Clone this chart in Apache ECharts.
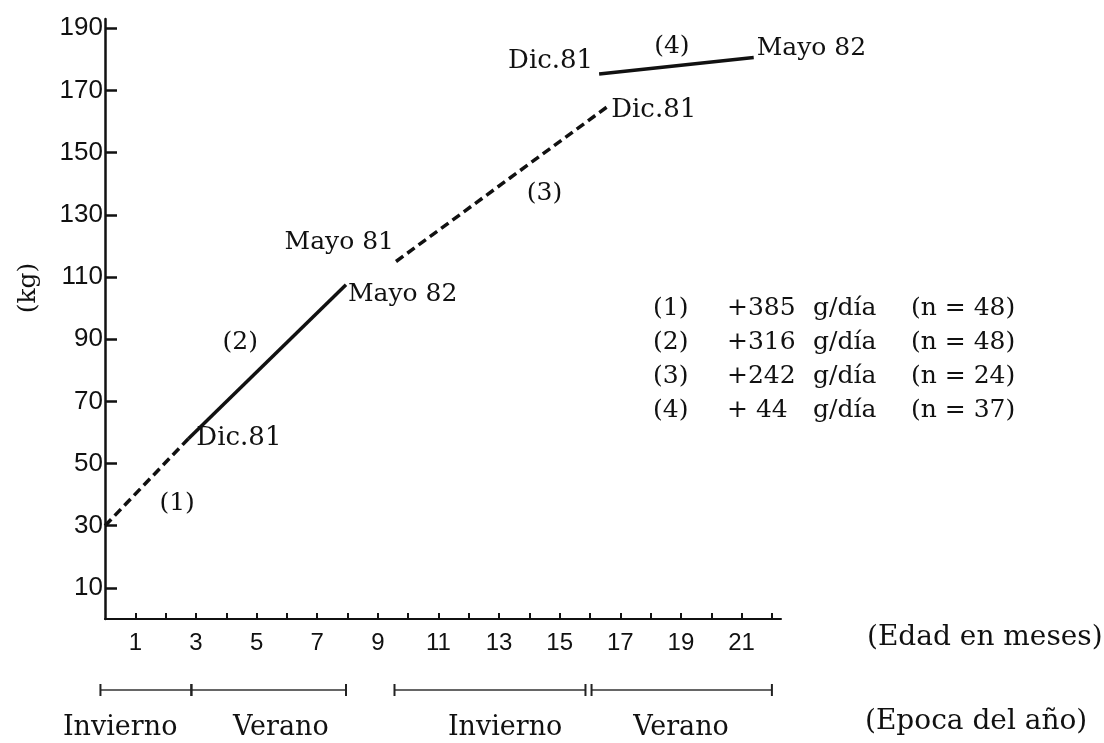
<!DOCTYPE html>
<html>
<head>
<meta charset="utf-8">
<script src="https://cdn.jsdelivr.net/npm/echarts@6/dist/echarts.min.js"></script>
<style>
html,body{margin:0;padding:0;background:#fff;}
#c{width:1104px;height:743px;}
</style>
</head>
<body>
<div id="c"></div>
<script>
// ---- data ----
var yTickValues = [10, 30, 50, 70, 90, 110, 130, 150, 170, 190];
var xTickValues = [1,2,3,4,5,6,7,8,9,10,11,12,13,14,15,16,17,18,19,20,21,22];
var xLabelValues = [1,3,5,7,9,11,13,15,17,19,21];

// growth segments: [month, kg]
var seg1 = [[0, 30], [2.75, 58]];          // (1) dashed
var seg2 = [[2.75, 58], [7.95, 107.5]];    // (2) solid
var seg3 = [[9.6, 115], [16.6, 165]];      // (3) dashed
var seg4 = [[16.3, 175.3], [21.4, 180.6]]; // (4) solid

var segNames = ['(1)', '(2)', '(3)', '(4)'];
var segNamePos = [[2.38, 37.3], [4.46, 89.1], [14.5, 137], [18.7, 184.2]];

var dateLabels = ['Dic.81', 'Mayo 82', 'Mayo 81', 'Dic.81', 'Dic.81', 'Mayo 82'];
var datePoints = [seg2[0], seg2[1], seg3[0], seg3[1], seg4[0], seg4[1]];

var seasons = ['Invierno', 'Verano', 'Invierno', 'Verano'];
var seasonRanges = [[-0.15, 2.85], [2.85, 7.95], [9.55, 15.85], [16.05, 22]];
var seasonLabelX = [0.5, 5.8, 13.2, 19.0];

var legNums = ['(1)', '(2)', '(3)', '(4)'];
var legRates = ['+385', '+316', '+242', '+ 44'];
var legUnit = 'g/día';
var legN = ['(n = 48)', '(n = 48)', '(n = 24)', '(n = 37)'];

var xName = '(Edad en meses)';
var seasonName = '(Epoca del año)';
var yName = '(kg)';

// ---- chart ----
var SERIF = '"DejaVu Serif", "Liberation Serif", serif';
var SANS = '"Liberation Sans", Arial, sans-serif';
var TXT = '#111';
var chart = echarts.init(document.getElementById('c'), null, {renderer: 'canvas'});

var labelCfg = [
  {position: 'right', distance: 8, offset: [0, 0], fontSize: 26},
  {position: 'right', distance: 2, offset: [0, 10], fontSize: 25},
  {position: 'left', distance: 2, offset: [0, -19], fontSize: 25},
  {position: 'right', distance: 3, offset: [0, 4], fontSize: 26},
  {position: 'left', distance: 6, offset: [0, -13], fontSize: 26},
  {position: 'right', distance: 3, offset: [0, -9], fontSize: 25}
];

function segSeries(data, dashed) {
  return {
    type: 'line', xAxisIndex: 0, yAxisIndex: 0, data: data,
    symbol: 'none', silent: true, animation: false,
    lineStyle: {color: '#111', width: 3.5, type: dashed ? [9, 5] : 'solid'}
  };
}

var series = [
  segSeries(seg1, true), segSeries(seg2, false),
  segSeries(seg3, true), segSeries(seg4, false),
  {
    type: 'scatter', xAxisIndex: 0, yAxisIndex: 0, symbolSize: 0, animation: false, silent: true,
    itemStyle: {opacity: 1},
    data: datePoints.map(function (p, i) {
      return {value: p, label: Object.assign({show: true, formatter: dateLabels[i],
        fontFamily: SERIF, color: TXT}, labelCfg[i])};
    })
  },
  {
    type: 'scatter', xAxisIndex: 0, yAxisIndex: 0, symbolSize: 0, animation: false, silent: true,
    itemStyle: {opacity: 1},
    data: segNamePos.map(function (p, i) {
      return {value: p, label: {show: true, position: 'inside', formatter: segNames[i],
        fontFamily: SERIF, fontSize: 25, color: TXT}};
    })
  }
];

seasonRanges.forEach(function (r) {
  series.push({
    type: 'line', xAxisIndex: 1, yAxisIndex: 1, animation: false, silent: true,
    data: [[r[0], 0], [r[1], 0]],
    symbol: 'rect', symbolSize: [2, 12], itemStyle: {color: '#222'},
    lineStyle: {color: '#333', width: 1.5}
  });
});
series.push({
  type: 'scatter', xAxisIndex: 1, yAxisIndex: 1, symbolSize: 0, animation: false, silent: true,
  itemStyle: {opacity: 1},
  data: seasonLabelX.map(function (x, i) {
    return {value: [x, 0], label: {show: true, position: 'bottom', distance: 24,
      formatter: seasons[i], fontFamily: SERIF, fontSize: 27, color: TXT}};
  })
});

var legendX = [653, 727, 813, 911];
var LH = 34, LT = 291;
var legFont = '25px ' + SERIF;
var graphics = [
  {type: 'text', left: legendX[0], top: LT, style: {text: legNums.join('\n'), font: legFont, lineHeight: LH, fill: TXT}},
  {type: 'text', left: legendX[1], top: LT, style: {text: legRates.join('\n'), font: legFont, lineHeight: LH, fill: TXT}},
  {type: 'text', left: legendX[2], top: LT, style: {text: legRates.map(function(){return legUnit;}).join('\n'), font: legFont, lineHeight: LH, fill: TXT}},
  {type: 'text', left: legendX[3], top: LT, style: {text: legN.join('\n'), font: legFont, lineHeight: LH, fill: TXT}},
  {type: 'text', left: 867, top: 624, style: {text: xName, font: '28px ' + SERIF, fill: TXT}},
  {type: 'text', left: 865, top: 708, style: {text: seasonName, font: '28px ' + SERIF, fill: TXT}},
  {type: 'text', x: 28, y: 288, rotation: Math.PI / 2, style: {text: yName, font: '25px ' + SERIF, fill: TXT, align: 'center', verticalAlign: 'middle'}}
];

chart.setOption({
  animation: false,
  backgroundColor: '#fff',
  grid: [
    {left: 105, right: 323, top: 19, bottom: 124, containLabel: false},
    {left: 105 - 0.5 * 676 / 22.3, right: 323, top: 682, height: 16}
  ],
  xAxis: [
    {
      type: 'value', gridIndex: 0, min: 0, max: 22.3,
      axisLine: {show: true, onZero: false, lineStyle: {color: '#111', width: 2}},
      axisTick: {show: true, inside: true, length: 6, customValues: xTickValues, lineStyle: {color: '#111', width: 2}},
      axisLabel: {show: true, customValues: xLabelValues, margin: 12, fontFamily: SANS, fontSize: 24, color: TXT},
      splitLine: {show: false}
    },
    {type: 'value', gridIndex: 1, min: -0.5, max: 22.3, show: false}
  ],
  yAxis: [
    {
      type: 'value', gridIndex: 0, min: 0, max: 193,
      axisLine: {show: true, onZero: false, lineStyle: {color: '#111', width: 2.5}},
      axisTick: {show: true, inside: true, length: 12, customValues: yTickValues, lineStyle: {color: '#111', width: 2.5}},
      axisLabel: {show: true, customValues: yTickValues, margin: 2, fontFamily: SANS, fontSize: 26, color: TXT},
      splitLine: {show: false}
    },
    {type: 'value', gridIndex: 1, min: -1, max: 1, show: false}
  ],
  series: series,
  graphic: graphics
});
</script>
</body>
</html>
